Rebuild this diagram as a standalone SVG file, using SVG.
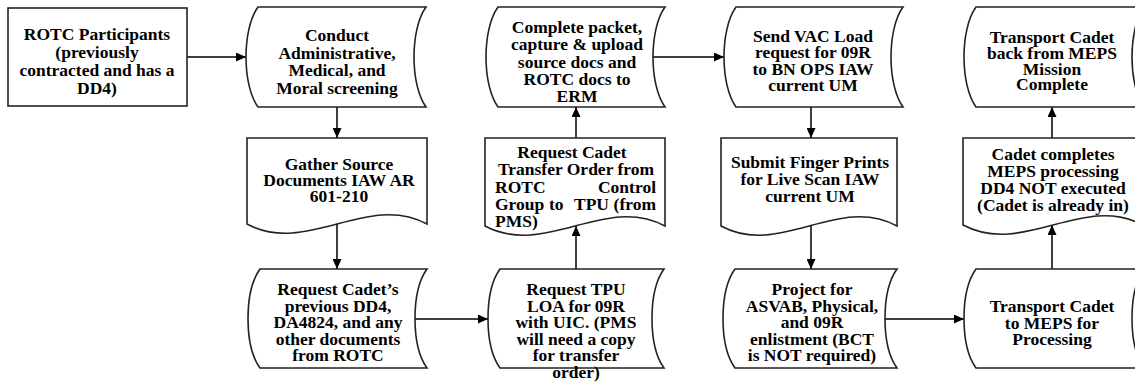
<svg xmlns="http://www.w3.org/2000/svg" width="1135" height="383" viewBox="0 0 1135 383">
<style>
.s{fill:#fff;stroke:#222;stroke-width:1.6}
.t{font-family:"Liberation Serif","Times New Roman",serif;font-weight:bold;font-size:17.5px;fill:#000;text-anchor:middle}
.l{text-anchor:start}
.e{text-anchor:end}
.c{fill:none;stroke:#000;stroke-width:1.5}
</style>
<defs>
<marker id="ah" markerUnits="userSpaceOnUse" markerWidth="11" markerHeight="9" refX="10" refY="4.5" orient="auto">
<path d="M0,0 L10,4.5 L0,9 Z" fill="#000"/>
</marker>
</defs>
<rect width="1135" height="383" fill="#fff"/>
<g id="connectors">
<path class="c" d="M187,57 H246" marker-end="url(#ah)"/>
<path class="c" d="M337,107 V138" marker-end="url(#ah)"/>
<path class="c" d="M337,224 V269" marker-end="url(#ah)"/>
<path class="c" d="M415,319 H488" marker-end="url(#ah)"/>
<path class="c" d="M576,269 V226" marker-end="url(#ah)"/>
<path class="c" d="M576,138 V107" marker-end="url(#ah)"/>
<path class="c" d="M653,57 H724" marker-end="url(#ah)"/>
<path class="c" d="M811,107 V138" marker-end="url(#ah)"/>
<path class="c" d="M811,226 V269" marker-end="url(#ah)"/>
<path class="c" d="M885,319 H964" marker-end="url(#ah)"/>
<path class="c" d="M1052,269 V225" marker-end="url(#ah)"/>
<path class="c" d="M1052,138 V107" marker-end="url(#ah)"/>
</g>
<g id="rotc">
<rect class="s" x="8" y="8" width="179" height="98"/>
<text class="t" x="97"><tspan x="97" y="40">ROTC Participants</tspan><tspan x="97" y="58">(previously</tspan><tspan x="97" y="76">contracted and has a</tspan><tspan x="97" y="94">DD4)</tspan></text>
</g>
<g id="conduct">
<path class="s" d="M258,7 H426 C410,29 410,85 426,107 H258 C242,85 242,29 258,7Z"/>
<text class="t"><tspan x="337" y="41">Conduct</tspan><tspan x="337" y="58.5">Administrative,</tspan><tspan x="337" y="76">Medical, and</tspan><tspan x="337" y="93.5">Moral screening</tspan></text>
</g>
<g id="gather">
<path class="s" d="M247,138 H427 V224 C367,192 307,256 247,224Z"/>
<text class="t"><tspan x="339" y="170">Gather Source</tspan><tspan x="339" y="186">Documents IAW AR</tspan><tspan x="339" y="202">601-210</tspan></text>
</g>
<g id="request-previous">
<path class="s" d="M260,269 H427 C411,291 411,346 427,368 H260 C244,346 244,291 260,269Z"/>
<text class="t"><tspan x="338" y="295">Request Cadet’s</tspan><tspan x="338" y="311.5">previous DD4,</tspan><tspan x="338" y="328">DA4824, and any</tspan><tspan x="338" y="344.5">other documents</tspan><tspan x="338" y="361">from ROTC</tspan></text>
</g>
<g id="request-tpu">
<path class="s" d="M500,269 H664 C648,291 648,346 664,368 H500 C484,346 484,291 500,269Z"/>
<text class="t"><tspan x="576" y="295">Request TPU</tspan><tspan x="576" y="311.5">LOA for 09R</tspan><tspan x="576" y="328">with UIC. (PMS</tspan><tspan x="576" y="344.5">will need a copy</tspan><tspan x="576" y="361">for transfer</tspan><tspan x="576" y="378">order)</tspan></text>
</g>
<g id="transfer-order">
<path class="s" d="M485,138 H665 V226 C605,194 545,258 485,226Z"/>
<text class="t"><tspan x="572" y="158">Request Cadet</tspan><tspan x="576" y="175">Transfer Order from</tspan></text>
<text class="t l"><tspan x="495" y="192.5">ROTC</tspan><tspan x="495" y="210">Group</tspan><tspan x="549" y="210">to</tspan><tspan x="574" y="210">TPU</tspan><tspan x="495" y="227">PMS)</tspan></text>
<text class="t e"><tspan x="656" y="192.5">Control</tspan><tspan x="656" y="210">(from</tspan></text>
</g>
<g id="complete-packet">
<path class="s" d="M498,7 H665 C649,29 649,85 665,107 H498 C482,85 482,29 498,7Z"/>
<text class="t"><tspan x="577" y="33">Complete packet,</tspan><tspan x="577" y="50">capture &amp; upload</tspan><tspan x="577" y="67.5">source docs and</tspan><tspan x="577" y="85">ROTC docs to</tspan><tspan x="577" y="102">ERM</tspan></text>
</g>
<g id="send-vac">
<path class="s" d="M736,7 H903 C887,29 887,85 903,107 H736 C720,85 720,29 736,7Z"/>
<text class="t"><tspan x="813" y="41.5">Send VAC Load</tspan><tspan x="813" y="58">request for 09R</tspan><tspan x="813" y="74.5">to BN OPS IAW</tspan><tspan x="813" y="91">current UM</tspan></text>
</g>
<g id="finger-prints">
<path class="s" d="M721,138 H897 V226 C838,194 780,258 721,226Z"/>
<text class="t"><tspan x="810" y="168">Submit Finger Prints</tspan><tspan x="810" y="185">for Live Scan IAW</tspan><tspan x="810" y="202">current UM</tspan></text>
</g>
<g id="project">
<path class="s" d="M735,269 H897 C881,291 881,346 897,368 H735 C719,346 719,291 735,269Z"/>
<text class="t"><tspan x="812" y="295">Project for</tspan><tspan x="812" y="311.5">ASVAB, Physical,</tspan><tspan x="812" y="328">and 09R</tspan><tspan x="812" y="344.5">enlistment (BCT</tspan><tspan x="812" y="361">is NOT required)</tspan></text>
</g>
<g id="transport-to-meps">
<path class="s" d="M976,269 H1144 C1128,291 1128,346 1144,368 H976 C960,346 960,291 976,269Z"/>
<text class="t"><tspan x="1052" y="312">Transport Cadet</tspan><tspan x="1052" y="328.5">to MEPS for</tspan><tspan x="1052" y="345">Processing</tspan></text>
</g>
<g id="meps-processing">
<path class="s" d="M963,138 H1143 V225 C1083,193 1023,257 963,225Z"/>
<text class="t"><tspan x="1053" y="160">Cadet completes</tspan><tspan x="1053" y="177">MEPS processing</tspan><tspan x="1053" y="194">DD4 NOT executed</tspan><tspan x="1053" y="211">(Cadet is already in)</tspan></text>
</g>
<g id="transport-back">
<path class="s" d="M976,7 H1144 C1128,29 1128,85 1144,107 H976 C960,85 960,29 976,7Z"/>
<text class="t"><tspan x="1052" y="43">Transport Cadet</tspan><tspan x="1052" y="59">back from MEPS</tspan><tspan x="1052" y="74.5">Mission</tspan><tspan x="1052" y="90">Complete</tspan></text>
</g>
</svg>
